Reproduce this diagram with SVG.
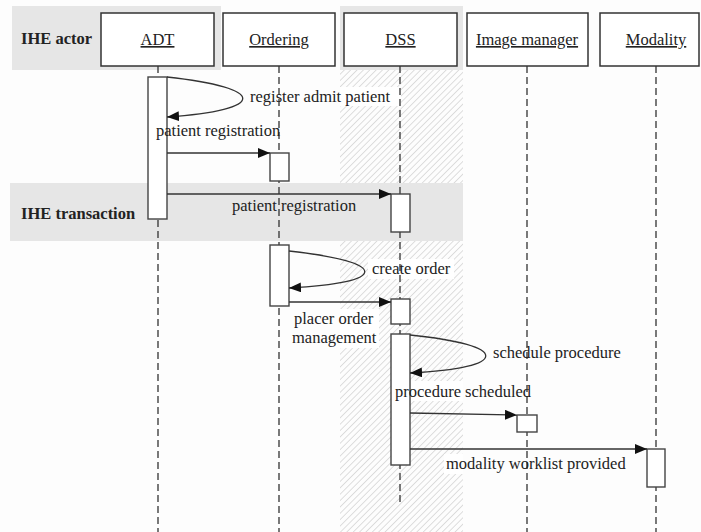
<svg xmlns="http://www.w3.org/2000/svg" width="701" height="532" viewBox="0 0 701 532">
<defs>
<pattern id="hatch" patternUnits="userSpaceOnUse" width="4.5" height="4.5" patternTransform="rotate(45)">
<line x1="0" y1="0" x2="0" y2="4.5" stroke="#bdbdbd" stroke-width="1"/>
</pattern>
<marker id="ah" viewBox="0 0 12 10" refX="12" refY="5" markerWidth="12" markerHeight="10" markerUnits="userSpaceOnUse" orient="auto">
<path d="M0,0 L12,5 L0,10 Z" fill="#111"/>
</marker>
<style>
.band{fill:#e6e6e6}
.box{fill:#fff;stroke:#333;stroke-width:1.5}
.act{fill:#fff;stroke:#444;stroke-width:1.4}
.life{stroke:#333;stroke-width:1.3;stroke-dasharray:7 4;fill:none}
.msg{stroke:#333;stroke-width:1.3;fill:none;marker-end:url(#ah)}
.lbg{fill:#fff}
.t{font-size:16.5px;fill:#222}
.hd{text-anchor:middle;text-decoration:underline}
.bold{font-weight:bold}
</style>
</defs>
<rect width="701" height="532" fill="#fdfdfd"/>
<rect class="band" x="12" y="6" width="209" height="64"/>
<rect class="band" x="340" y="6" width="123" height="64"/>
<rect fill="url(#hatch)" x="340" y="70" width="123" height="113"/>
<rect class="band" x="10" y="183" width="453" height="58"/>
<rect fill="url(#hatch)" x="340" y="241" width="123" height="291"/>
<g id="band-labels">
<text class="t bold" font-family="Liberation Serif, serif" x="21" y="44">IHE actor</text>
<text class="t bold" font-family="Liberation Serif, serif" x="21" y="219">IHE transaction</text>
</g>
<rect class="lbg" x="340" y="87" width="61" height="19"/>
<rect class="lbg" x="368" y="259" width="86" height="20"/>
<rect class="lbg" x="340" y="309" width="39" height="39"/>
<rect class="lbg" x="393" y="381" width="70" height="20"/>
<rect class="lbg" x="444" y="454" width="19" height="20"/>
<g id="lifelines">
<line class="life" x1="158" y1="66" x2="158" y2="532"/>
<line class="life" x1="279" y1="66" x2="279" y2="532"/>
<line class="life" x1="400" y1="66" x2="400" y2="506"/>
<line class="life" x1="527" y1="66" x2="527" y2="532"/>
<line class="life" x1="656" y1="66" x2="656" y2="532"/>
</g>
<g id="adt"><rect class="box" x="101" y="13" width="113" height="53"/><text class="t hd" font-family="Liberation Serif, serif" x="157.5" y="45">ADT</text></g>
<g id="ordering"><rect class="box" x="223" y="13" width="112" height="53"/><text class="t hd" font-family="Liberation Serif, serif" x="279" y="45">Ordering</text></g>
<g id="dss"><rect class="box" x="344" y="13" width="113" height="53"/><text class="t hd" font-family="Liberation Serif, serif" x="400.5" y="45">DSS</text></g>
<g id="image-manager"><rect class="box" x="467" y="13" width="121" height="53"/><text class="t hd" font-family="Liberation Serif, serif" x="527" y="45">Image manager</text></g>
<g id="modality"><rect class="box" x="600" y="13" width="99" height="53"/><text class="t hd" font-family="Liberation Serif, serif" x="656" y="45">Modality</text></g>
<g id="activations">
<rect class="act" x="148" y="77" width="19" height="142"/>
<rect class="act" x="270" y="153" width="19" height="28"/>
<rect class="act" x="391" y="194" width="19" height="38"/>
<rect class="act" x="270" y="245" width="19" height="61"/>
<rect class="act" x="391" y="299" width="19" height="25"/>
<rect class="act" x="391" y="334" width="19" height="131"/>
<rect class="act" x="517" y="415" width="20" height="17"/>
<rect class="act" x="647" y="449" width="18" height="38"/>
</g>
<g id="connectors">
<path class="msg" d="M167,77 C268,88 268,110 167,117"/>
<line class="msg" x1="167" y1="153" x2="270" y2="153"/>
<line class="msg" x1="167" y1="194" x2="391" y2="194"/>
<path class="msg" d="M289,251 C390,262 390,283 289,288"/>
<line class="msg" x1="289" y1="302" x2="391" y2="302"/>
<path class="msg" d="M410,335 C511,345 511,368 410,373"/>
<line class="msg" x1="410" y1="413" x2="517" y2="415"/>
<line class="msg" x1="410" y1="449" x2="647" y2="449"/>
</g>
<g id="labels">
<text class="t" font-family="Liberation Serif, serif" x="250" y="102">register admit patient</text>
<text class="t" font-family="Liberation Serif, serif" x="156" y="136">patient registration</text>
<text class="t" font-family="Liberation Serif, serif" x="232" y="211">patient registration</text>
<text class="t" font-family="Liberation Serif, serif" x="372" y="274">create order</text>
<text class="t" font-family="Liberation Serif, serif" x="294" y="324">placer order</text>
<text class="t" font-family="Liberation Serif, serif" x="292" y="343">management</text>
<text class="t" font-family="Liberation Serif, serif" x="493" y="358">schedule procedure</text>
<text class="t" font-family="Liberation Serif, serif" x="395" y="397">procedure scheduled</text>
<text class="t" font-family="Liberation Serif, serif" x="446" y="469">modality worklist provided</text>
</g>
</svg>
